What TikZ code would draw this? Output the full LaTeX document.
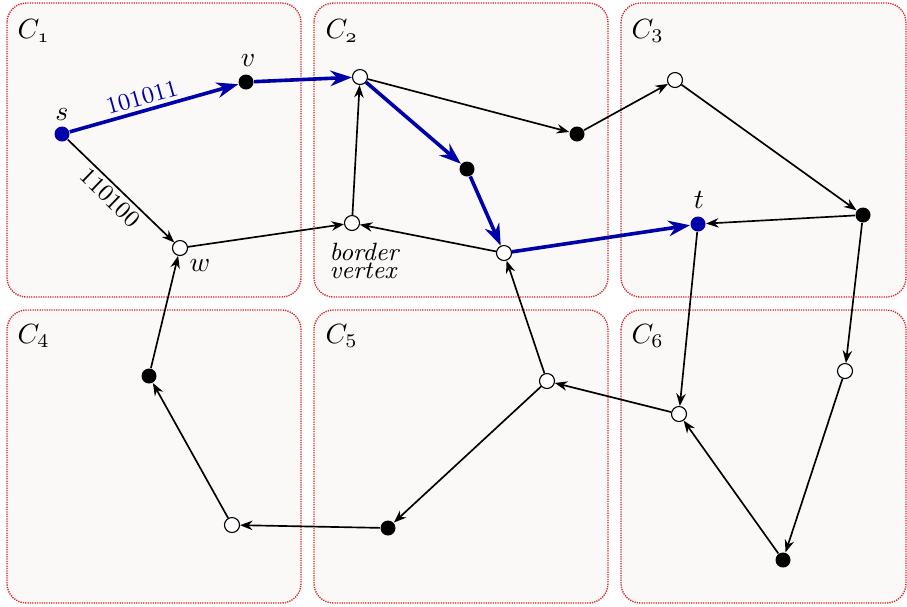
\documentclass[tikz,border=0pt]{standalone}
\usetikzlibrary{arrows.meta}
\definecolor{pathblue}{RGB}{0,0,170}
\definecolor{panelfill}{RGB}{250,249,248}
\definecolor{panelred}{RGB}{215,35,35}
\begin{document}
\begin{tikzpicture}[x=0.36pt,y=-0.36pt,
  panel/.style={draw=panelred,dash pattern=on 0.45pt off 0.4pt,line width=0.5pt,fill=panelfill,rounded corners=7pt},
  wv/.style={circle,draw=black,fill=white,inner sep=0pt,minimum size=5.4pt,line width=0.4pt},
  bv/.style={circle,fill=black,inner sep=0pt,minimum size=5.4pt},
  sv/.style={circle,fill=pathblue,inner sep=0pt,minimum size=5.4pt},
  edge/.style={-{Stealth[length=4.5pt,width=3.4pt]},line width=0.6pt},
  bedge/.style={-{Stealth[length=7.8pt,width=5.6pt]},line width=1.3pt,draw=pathblue},
  clab/.style={anchor=base west,inner sep=0pt},
  elab/.style={font=\fontsize{8.6pt}{10pt}\selectfont,inner sep=1.2pt,sloped}]
\useasboundingbox (0,0) rectangle (907,606);
% panels
\draw[panel] (7,3) rectangle (301,297);
\draw[panel] (314,3) rectangle (608,297);
\draw[panel] (621,3) rectangle (906,297);
\draw[panel] (7,310) rectangle (301,603);
\draw[panel] (314,310) rectangle (608,603);
\draw[panel] (621,310) rectangle (906,603);
% panel labels
\node[clab] (l1) at (17,38) {$C_{\mathnormal{1}}$};
\node[clab] (l2) at (325,38) {$C_{\mathnormal{2}}$};
\node[clab] (l3) at (631,38) {$C_3$};
\node[clab] (l4) at (17,343) {$C_4$};
\node[clab] (l5) at (325,343) {$C_5$};
\node[clab] (l6) at (631,343) {$C_6$};
% vertices
\node[sv] (s) at (62,134) {};
\node[bv] (v) at (246,82) {};
\node[wv] (w) at (180,248) {};
\node[wv] (u2) at (360,77) {};
\node[bv] (r2) at (577,134) {};
\node[bv] (m2) at (467,169) {};
\node[wv] (bd) at (352,223) {};
\node[wv] (b2) at (504,253) {};
\node[wv] (u3) at (675,80) {};
\node[bv] (r3) at (863,215) {};
\node[sv] (t) at (698,224) {};
\node[bv] (k4) at (149,376) {};
\node[wv] (w4) at (232,525) {};
\node[wv] (w5) at (547,381) {};
\node[bv] (k5) at (388,528) {};
\node[wv] (a6) at (679,414) {};
\node[wv] (b6) at (845,371) {};
\node[bv] (k6) at (783,560) {};
% vertex labels
\node (ls) at (62,115) {$s$};
\node (lv) at (248,61) {$v$};
\node (lw) at (200,266) {$w$};
\node (lt) at (699,200) {$t$};
\node[anchor=north west,align=left,inner sep=0pt,font=\small\itshape] (lbd) at (329,243) {border\\[-4.8pt]vertex};
% black edges
\draw[edge] (s) -- node[elab,below,pos=0.48] {110100} (w);
\draw[edge] (w) -- (bd);
\draw[edge] (b2) -- (bd);
\draw[edge] (bd) -- (u2);
\draw[edge] (u2) -- (r2);
\draw[edge] (r2) -- (u3);
\draw[edge] (u3) -- (r3);
\draw[edge] (r3) -- (t);
\draw[edge] (t) -- (a6);
\draw[edge] (r3) -- (b6);
\draw[edge] (b6) -- (k6);
\draw[edge] (k6) -- (a6);
\draw[edge] (a6) -- (w5);
\draw[edge] (w5) -- (b2);
\draw[edge] (w5) -- (k5);
\draw[edge] (k5) -- (w4);
\draw[edge] (w4) -- (k4);
\draw[edge] (k4) -- (w);
% blue path
\draw[bedge] (s) -- node[elab,above,pos=0.45,text=pathblue] {101011} (v);
\draw[bedge] (v) -- (u2);
\draw[bedge] (u2) -- (m2);
\draw[bedge] (m2) -- (b2);
\draw[bedge] (b2) -- (t);
\end{tikzpicture}
\end{document}
